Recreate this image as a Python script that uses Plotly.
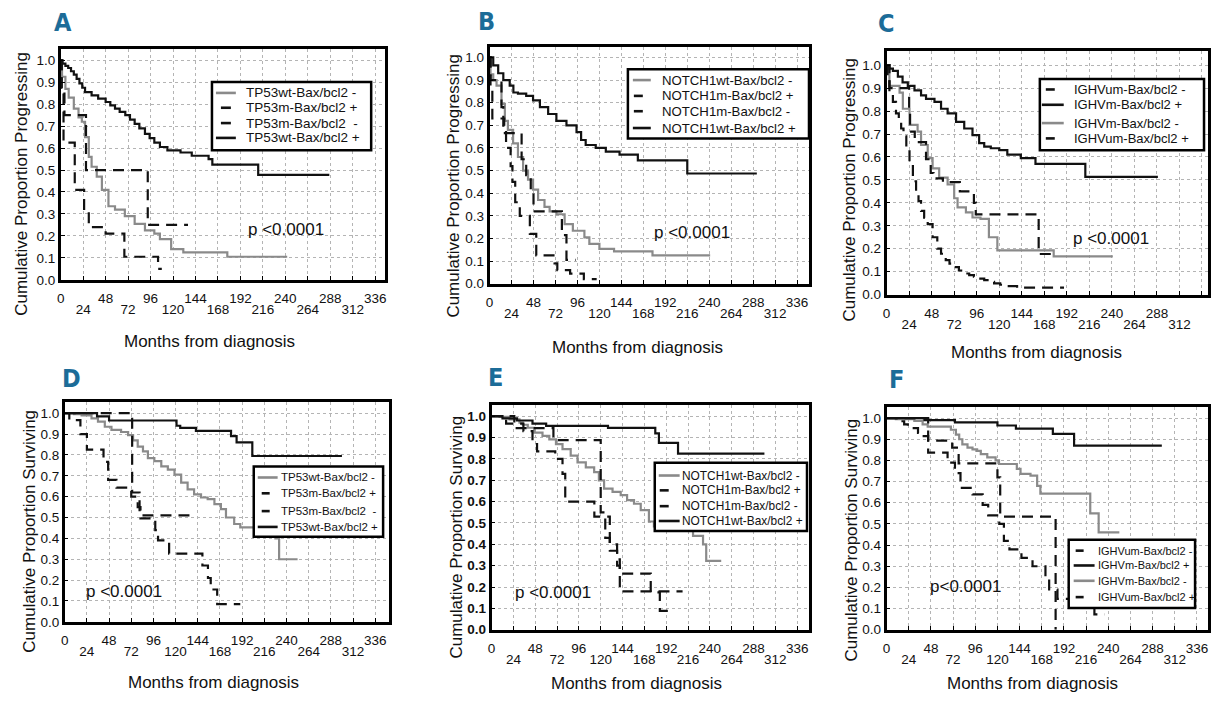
import plotly.graph_objects as go

W, H = 1211, 702

# ---------------- Panel A: TP53 x Bax/bcl2, progression ----------------
a_wt_neg_t = [0, 1.4, 5, 8.5, 14, 19, 22.6, 26, 30, 33, 38.5, 44, 51, 58, 68.5, 79, 90, 100, 106, 118, 131, 178, 242]
a_wt_neg_s = [1.0, 0.925, 0.87, 0.83, 0.78, 0.74, 0.72, 0.65, 0.56, 0.515, 0.47, 0.41, 0.335, 0.32, 0.29, 0.255, 0.225, 0.21, 0.185, 0.14, 0.125, 0.105, 0.105]
a_m_pos_t = [0, 1, 4, 27, 93, 136]
a_m_pos_s = [1.0, 0.875, 0.75, 0.5, 0.25, 0.25]
a_m_neg_t = [0, 1, 3, 15, 25, 30, 48, 68, 104, 108]
a_m_neg_s = [1.0, 0.87, 0.625, 0.41, 0.31, 0.24, 0.21, 0.105, 0.05, 0.05]
a_wt_pos_t = [0, 2, 5, 8, 11, 14, 17, 20, 23, 26, 33, 40, 48, 53, 58, 63, 69, 74, 79, 84, 90, 95, 100, 106, 114, 128, 140, 158, 162, 211, 287]
a_wt_pos_s = [1.0, 0.985, 0.975, 0.965, 0.95, 0.935, 0.915, 0.895, 0.875, 0.855, 0.84, 0.825, 0.81, 0.795, 0.78, 0.765, 0.75, 0.73, 0.71, 0.69, 0.665, 0.645, 0.625, 0.605, 0.59, 0.58, 0.565, 0.55, 0.525, 0.478, 0.478]

# ---------------- Panel B: NOTCH1 x Bax/bcl2, progression ----------------
b_wt_neg_t = [0, 1, 4, 7.6, 13, 16.7, 20, 25.7, 31, 36.6, 42, 47.5, 53, 60, 65.6, 73, 82, 91, 103.6, 109, 120, 136, 178, 241]
b_wt_neg_s = [1.0, 0.925, 0.90, 0.875, 0.795, 0.72, 0.68, 0.62, 0.56, 0.50, 0.46, 0.416, 0.37, 0.34, 0.32, 0.307, 0.263, 0.234, 0.205, 0.176, 0.154, 0.143, 0.125, 0.125]
b_m_pos_t = [0, 1, 13, 15, 35, 40, 45, 48, 79, 84, 94]
b_m_pos_s = [1.0, 0.90, 0.78, 0.665, 0.55, 0.48, 0.40, 0.32, 0.215, 0.105, 0.105]
b_m_neg_t = [0, 1, 3, 16, 18, 23, 25, 28, 33, 44, 51, 71, 74, 88, 103, 117]
b_m_neg_s = [1.0, 0.875, 0.73, 0.67, 0.60, 0.52, 0.45, 0.36, 0.30, 0.22, 0.125, 0.09, 0.06, 0.045, 0.02, 0.02]
b_wt_pos_t = [0, 4, 9.4, 15, 22, 26, 31, 40, 47.5, 55, 64, 73, 84, 95, 100, 105, 116, 127, 142, 162, 216, 292]
b_wt_pos_s = [1.0, 0.965, 0.93, 0.90, 0.875, 0.845, 0.84, 0.83, 0.81, 0.78, 0.75, 0.72, 0.70, 0.67, 0.635, 0.613, 0.60, 0.584, 0.57, 0.545, 0.487, 0.487]

# ---------------- Panel C: IGHV x Bax/bcl2, progression ----------------
c_um_neg_t = [0, 1, 3, 6.7, 10, 13, 15.5, 18, 21, 24.4, 28, 31.4, 34, 36.7, 40, 43.8, 49, 54, 58, 63, 67, 72, 77, 82.7, 88, 93, 98, 104, 109, 114.5, 121, 128.6, 139, 189]
c_um_neg_s = [1.0, 0.95, 0.88, 0.84, 0.79, 0.76, 0.724, 0.69, 0.64, 0.58, 0.494, 0.44, 0.408, 0.365, 0.335, 0.307, 0.25, 0.20, 0.178, 0.15, 0.135, 0.12, 0.105, 0.092, 0.085, 0.078, 0.07, 0.063, 0.056, 0.049, 0.043, 0.037, 0.03, 0.03]
c_m_pos_t = [0, 3, 6.7, 12, 17, 22.6, 29.7, 36.7, 42, 51, 58, 65, 74, 82.7, 91.5, 98.6, 104, 111, 120, 128.6, 143, 158.6, 211.7, 289]
c_m_pos_s = [1.0, 0.985, 0.975, 0.95, 0.925, 0.91, 0.89, 0.868, 0.853, 0.84, 0.81, 0.79, 0.753, 0.724, 0.695, 0.66, 0.645, 0.638, 0.63, 0.61, 0.595, 0.57, 0.513, 0.513]
c_m_neg_t = [0, 3, 13.8, 17.3, 24.4, 33, 36.7, 43.8, 49, 56, 65, 72, 75.6, 84.5, 91.5, 100, 109, 118, 178, 241]
c_m_neg_s = [1.0, 0.91, 0.88, 0.81, 0.74, 0.71, 0.652, 0.595, 0.55, 0.51, 0.48, 0.42, 0.38, 0.358, 0.336, 0.33, 0.25, 0.193, 0.167, 0.167]
c_um_pos_t = [0, 3, 24, 25, 30, 42, 47, 50, 60, 78, 93, 95, 162, 178]
c_um_pos_s = [1.0, 0.90, 0.80, 0.71, 0.665, 0.59, 0.53, 0.507, 0.49, 0.45, 0.40, 0.35, 0.177, 0.177]

# ---------------- Panel D: TP53 x Bax/bcl2, survival ----------------
d_wt_neg_t = [0, 10, 18.3, 29, 36, 43.4, 50.6, 61, 68.6, 74, 79, 84.7, 90, 97, 104.5, 111.6, 118.8, 126, 133, 140, 147.5, 154.7, 162, 169, 174.5, 183.4, 190, 228, 232, 252]
d_wt_neg_s = [1.0, 0.995, 0.99, 0.975, 0.96, 0.935, 0.92, 0.91, 0.895, 0.87, 0.84, 0.817, 0.785, 0.77, 0.745, 0.73, 0.706, 0.667, 0.635, 0.611, 0.596, 0.588, 0.564, 0.54, 0.50, 0.469, 0.453, 0.40, 0.30, 0.30]
d_m_pos_t = [0, 73, 81, 135]
d_m_pos_s = [1.0, 0.62, 0.51, 0.51]
d_m_neg_t = [0, 5, 17, 24, 42, 47, 56, 72, 79, 82, 98, 101, 113, 149, 155, 158, 165, 190]
d_m_neg_s = [1.0, 0.967, 0.90, 0.825, 0.767, 0.68, 0.643, 0.60, 0.55, 0.496, 0.44, 0.39, 0.327, 0.27, 0.21, 0.155, 0.085, 0.085]
d_wt_pos_t = [0, 35, 48, 121, 125, 142, 180, 186, 203, 300]
d_wt_pos_s = [1.0, 0.985, 0.965, 0.94, 0.93, 0.915, 0.89, 0.86, 0.795, 0.795]

# ---------------- Panel E: NOTCH1 x Bax/bcl2, survival ----------------
e_wt_neg_t = [0, 8.8, 19.7, 30.7, 34.3, 39.8, 47, 56, 63.5, 70.8, 78, 87, 94.5, 103.6, 112.8, 118, 123.7, 133, 142, 149, 156.6, 164, 173, 178.5, 190, 221.5, 232.5, 236, 252.5]
e_wt_neg_s = [1.0, 0.997, 0.985, 0.97, 0.96, 0.946, 0.923, 0.908, 0.892, 0.869, 0.846, 0.815, 0.784, 0.76, 0.738, 0.70, 0.661, 0.646, 0.63, 0.607, 0.59, 0.56, 0.507, 0.484, 0.464, 0.44, 0.40, 0.323, 0.323]
e_m_pos_t = [0, 25, 68, 120, 125, 130, 138, 141, 210]
e_m_pos_s = [1.0, 0.944, 0.888, 0.55, 0.43, 0.37, 0.30, 0.18, 0.18]
e_m_neg_t = [0, 16, 35, 45, 50, 70, 78, 81, 113, 130, 138, 141, 175, 185, 200]
e_m_neg_s = [1.0, 0.965, 0.93, 0.87, 0.835, 0.80, 0.73, 0.60, 0.53, 0.40, 0.33, 0.263, 0.175, 0.088, 0.088]
e_wt_pos_t = [0, 12, 28, 45, 60, 128, 180, 184, 205, 300]
e_wt_pos_s = [1.0, 0.99, 0.98, 0.965, 0.955, 0.945, 0.92, 0.875, 0.825, 0.825]

# ---------------- Panel F: IGHV x Bax/bcl2, survival ----------------
f_um_neg_t = [0, 12, 19, 23, 34, 37, 45, 66, 74, 80, 93, 104, 110, 122, 127, 133, 146, 158, 172, 176, 185, 225, 236]
f_um_neg_s = [1.0, 0.985, 0.97, 0.953, 0.93, 0.915, 0.837, 0.79, 0.74, 0.67, 0.64, 0.59, 0.54, 0.50, 0.42, 0.38, 0.34, 0.30, 0.25, 0.19, 0.146, 0.073, 0.073]
f_m_pos_t = [0, 41, 74, 120, 140, 180, 203, 298]
f_m_pos_s = [1.0, 0.99, 0.98, 0.965, 0.95, 0.925, 0.87, 0.87]
f_m_neg_t = [0, 10, 30, 39, 44.5, 69.6, 75, 78.6, 82, 87.6, 93, 98, 102, 109, 118, 121.7, 141, 145, 155.8, 163, 166.5, 220.5, 229.6, 252]
f_m_neg_s = [1.0, 0.995, 0.987, 0.97, 0.96, 0.945, 0.922, 0.90, 0.876, 0.86, 0.852, 0.845, 0.83, 0.814, 0.80, 0.783, 0.76, 0.736, 0.728, 0.68, 0.643, 0.55, 0.46, 0.46]
f_um_pos_t = [0, 45, 71, 78, 120, 123, 183]
f_um_pos_s = [1.0, 0.894, 0.86, 0.786, 0.72, 0.534, 0.0]

# legend labels
tp53_labels = ["TP53wt-Bax/bcl2 -", "TP53m-Bax/bcl2 +", "TP53m-Bax/bcl2  -", "TP53wt-Bax/bcl2 +"]
notch_labels = ["NOTCH1wt-Bax/bcl2 -", "NOTCH1m-Bax/bcl2 +", "NOTCH1m-Bax/bcl2 -", "NOTCH1wt-Bax/bcl2 +"]
ighv_labels = ["IGHVum-Bax/bcl2 -", "IGHVm-Bax/bcl2 +", "IGHVm-Bax/bcl2 -", "IGHVum-Bax/bcl2 +"]

month_ticks = list(range(0, 337, 24))
month_ticks_lower = [m for m in month_ticks if m % 48 != 0]
prop_ticks = [i / 10 for i in range(11)]

# ---------------- styling ----------------
GRAY = "#8a8a8a"
BLACK = "#111111"
GRID = "#b4b4b4"
BLUE = "#1c6c98"
DASH = "11px,7px"
COND = "DejaVu Sans Condensed, Liberation Sans, Arial"
SANS = "Liberation Sans, Arial, sans-serif"

STYLE = {
    "gray": dict(color=GRAY, dash="solid"),
    "dash": dict(color=BLACK, dash=DASH),
    "black": dict(color=BLACK, dash="solid"),
}


def fx(x):
    return x / W


def fy(y):
    return 1 - y / H


panels = [
    dict(letter="A", letter_xy=(59, 23), box=(57, 50, 383, 283), xmax=346.6, ymax=1.0495,
         ytitle="Cumulative Proportion Progressing", ytitle_xy=(18, 186), xtitle_xy=(207, 345),
         pval="p <0.0001", pval_xy=(283, 232),
         series=[(a_wt_neg_t, a_wt_neg_s, "gray"), (a_m_pos_t, a_m_pos_s, "dash"),
                 (a_m_neg_t, a_m_neg_s, "dash"), (a_wt_pos_t, a_wt_pos_s, "black")],
         labels=tp53_labels, styles=["gray", "dash", "dash", "black"],
         leg_box=(209, 83, 369, 152), leg_rows=[94, 109, 124.5, 139.5], leg_text_x=241,
         leg_solid=(213, 233), leg_dash=(218, 228), leg_font=13.5, ybold=False),
    dict(letter="B", letter_xy=(485, 22), box=(488, 48, 809, 287), xmax=349, ymax=1.044,
         ytitle="Cumulative Proportion Progressing", ytitle_xy=(452, 188), xtitle_xy=(637, 351),
         pval="p <0.0001", pval_xy=(691, 235),
         series=[(b_wt_neg_t, b_wt_neg_s, "gray"), (b_m_pos_t, b_m_pos_s, "dash"),
                 (b_m_neg_t, b_m_neg_s, "dash"), (b_wt_pos_t, b_wt_pos_s, "black")],
         labels=notch_labels, styles=["gray", "dash", "dash", "black"],
         leg_box=(627, 70, 809, 140), leg_rows=[81, 97, 112.5, 129.5], leg_text_x=659,
         leg_solid=(632, 650), leg_dash=(633, 642), leg_font=13.2, ybold=False),
    dict(letter="C", letter_xy=(887, 24), box=(887, 52, 1210, 298), xmax=342.4, ymax=1.06,
         ytitle="Cumulative Proportion Progressing", ytitle_xy=(850, 192), xtitle_xy=(1038, 357),
         pval="p <0.0001", pval_xy=(1113, 241),
         series=[(c_m_neg_t, c_m_neg_s, "gray"), (c_um_neg_t, c_um_neg_s, "dash"),
                 (c_um_pos_t, c_um_pos_s, "dash"), (c_m_pos_t, c_m_pos_s, "black")],
         labels=ighv_labels, styles=["dash", "black", "gray", "dash"],
         leg_box=(1041, 80, 1206, 152), leg_rows=[90.5, 106, 124.5, 140], leg_text_x=1073,
         leg_solid=(1043, 1065), leg_dash=(1047, 1056), leg_font=13, ybold=False),
    dict(letter="D", letter_xy=(68, 383), box=(61, 407, 387, 629), xmax=351, ymax=1.052,
         ytitle="Cumulative Proportion Surviving", ytitle_xy=(26, 537), xtitle_xy=(211, 690),
         pval="p <0.0001", pval_xy=(121, 598),
         series=[(d_wt_neg_t, d_wt_neg_s, "gray"), (d_m_pos_t, d_m_pos_s, "dash"),
                 (d_m_neg_t, d_m_neg_s, "dash"), (d_wt_pos_t, d_wt_pos_s, "black")],
         labels=tp53_labels, styles=["gray", "dash", "dash", "black"],
         leg_box=(251, 472, 381, 543), leg_rows=[483, 499, 517, 533], leg_text_x=276,
         leg_solid=(255, 275), leg_dash=(259, 267), leg_font=11.5, ybold=False),
    dict(letter="E", letter_xy=(494, 382), box=(490, 410, 809, 637), xmax=349, ymax=1.051,
         ytitle="Cumulative Proportion Surviving", ytitle_xy=(455, 543), xtitle_xy=(636, 691),
         pval="p <0.0001", pval_xy=(552, 599),
         series=[(e_wt_neg_t, e_wt_neg_s, "gray"), (e_m_pos_t, e_m_pos_s, "dash"),
                 (e_m_neg_t, e_m_neg_s, "dash"), (e_wt_pos_t, e_wt_pos_s, "black")],
         labels=notch_labels, styles=["gray", "dash", "dash", "black"],
         leg_box=(654, 468, 807, 537), leg_rows=[481, 496, 512, 527], leg_text_x=679,
         leg_solid=(658, 679), leg_dash=(659, 668), leg_font=11.9, ybold=True),
    dict(letter="F", letter_xy=(897, 384), box=(887, 412, 1210, 637), xmax=348, ymax=1.051,
         ytitle="Cumulative Proportion Surviving", ytitle_xy=(852, 546), xtitle_xy=(1034, 691),
         pval="p<0.0001", pval_xy=(966, 593),
         series=[(f_m_neg_t, f_m_neg_s, "gray"), (f_um_neg_t, f_um_neg_s, "dash"),
                 (f_um_pos_t, f_um_pos_s, "dash"), (f_m_pos_t, f_m_pos_s, "black")],
         labels=ighv_labels, styles=["dash", "black", "gray", "dash"],
         leg_box=(1070, 546, 1197, 615), leg_rows=[557, 572, 587.5, 604], leg_text_x=1097,
         leg_solid=(1075, 1096), leg_dash=(1077, 1085), leg_font=11, ybold=False),
]

fig = go.Figure()
shapes, annotations, axes = [], [], {}

upper_text = [str(m) if m % 48 == 0 else "" for m in month_ticks]
prop_text = [f"{v:.1f}" for v in prop_ticks]
tick_font = dict(family=SANS, size=13.5, color="#111")

n = len(panels)
for i, p in enumerate(panels, start=1):
    xa = "x" if i == 1 else f"x{i}"
    ya = "y" if i == 1 else f"y{i}"
    left, top, right, bottom = p["box"]

    for t, s, sty in p["series"]:
        st = STYLE[sty]
        fig.add_trace(go.Scatter(
            x=t, y=s, mode="lines", xaxis=xa, yaxis=ya, showlegend=False, hoverinfo="skip",
            line=dict(shape="hv", color=st["color"], dash=st["dash"], width=2.2)))

    common = dict(showgrid=True, gridcolor=GRID, griddash="dot", gridwidth=1.4,
                  showline=True, linecolor="black", linewidth=2.6, mirror=True,
                  ticks="inside", ticklen=4, tickwidth=1.3, tickcolor="black",
                  zeroline=False, fixedrange=True)
    axes["xaxis" if i == 1 else f"xaxis{i}"] = dict(
        domain=[fx(left), fx(right)], range=[0, p["xmax"]], anchor=ya,
        tickmode="array", tickvals=month_ticks, ticktext=upper_text, tickangle=0,
        ticklabelstandoff=4, tickfont=tick_font, **common)
    # second row of month labels (24, 72, 120, ...) on an overlaid axis
    xo = n + i
    axes[f"xaxis{xo}"] = dict(
        overlaying=xa, anchor=ya, side="bottom", range=[0, p["xmax"]],
        tickmode="array", tickvals=month_ticks_lower, ticktext=[str(m) for m in month_ticks_lower],
        tickangle=0, ticks="", showgrid=False, showline=False, zeroline=False,
        ticklabelstandoff=20, tickfont=tick_font, fixedrange=True)
    fig.add_trace(go.Scatter(x=[0, 0], y=[0, 0], mode="lines", xaxis=f"x{xo}", yaxis=ya,
                             line=dict(width=0, color="rgba(0,0,0,0)"),
                             showlegend=False, hoverinfo="skip"))
    axes["yaxis" if i == 1 else f"yaxis{i}"] = dict(
        domain=[fy(bottom), fy(top)], range=[0, p["ymax"]], anchor=xa,
        tickmode="array", tickvals=prop_ticks, ticktext=prop_text,
        tickfont=dict(family=SANS, size=13.5, color="#111",
                      weight="bold" if p["ybold"] else "normal"), **common)

    # panel letter, axis titles and p-value
    lx, ly = p["letter_xy"]
    annotations.append(dict(text=p["letter"], x=fx(lx), y=fy(ly), xref="paper", yref="paper",
                            showarrow=False, xanchor="center", yanchor="middle",
                            font=dict(family=COND, size=25, color=BLUE, weight="bold")))
    tx, ty = p["ytitle_xy"]
    annotations.append(dict(text=p["ytitle"], x=fx(tx), y=fy(ty), xref="paper", yref="paper",
                            showarrow=False, textangle=-90, xanchor="center", yanchor="middle",
                            font=dict(family=SANS, size=17, color="#111")))
    tx, ty = p["xtitle_xy"]
    annotations.append(dict(text="Months from diagnosis", x=fx(tx), y=fy(ty), xref="paper",
                            yref="paper", showarrow=False, xanchor="center", yanchor="middle",
                            font=dict(family=SANS, size=17, color="#111")))
    tx, ty = p["pval_xy"]
    annotations.append(dict(text=p["pval"], x=fx(tx), y=fy(ty), xref="paper", yref="paper",
                            showarrow=False, xanchor="center", yanchor="middle",
                            font=dict(family=SANS, size=17, color="#111")))

    # boxed key
    bl, bt, br, bb = p["leg_box"]
    shapes.append(dict(type="rect", xref="paper", yref="paper", x0=fx(bl), x1=fx(br),
                       y0=fy(bb), y1=fy(bt), line=dict(color="black", width=2.5),
                       fillcolor="white", layer="above"))
    for label, sty, ry in zip(p["labels"], p["styles"], p["leg_rows"]):
        x0, x1 = p["leg_dash"] if sty == "dash" else p["leg_solid"]
        shapes.append(dict(type="line", xref="paper", yref="paper", x0=fx(x0), x1=fx(x1),
                           y0=fy(ry), y1=fy(ry), layer="above",
                           line=dict(color=STYLE[sty]["color"], width=2.6)))
        annotations.append(dict(text=label, x=fx(p["leg_text_x"]), y=fy(ry), xref="paper",
                                yref="paper", showarrow=False, xanchor="left", yanchor="middle",
                                font=dict(family=SANS, size=p["leg_font"], color="#111")))

fig.update_layout(
    width=W, height=H, margin=dict(l=0, r=0, t=0, b=0),
    paper_bgcolor="white", plot_bgcolor="white",
    shapes=shapes, annotations=annotations, showlegend=False, **axes)

fig.write_html("out.html")
